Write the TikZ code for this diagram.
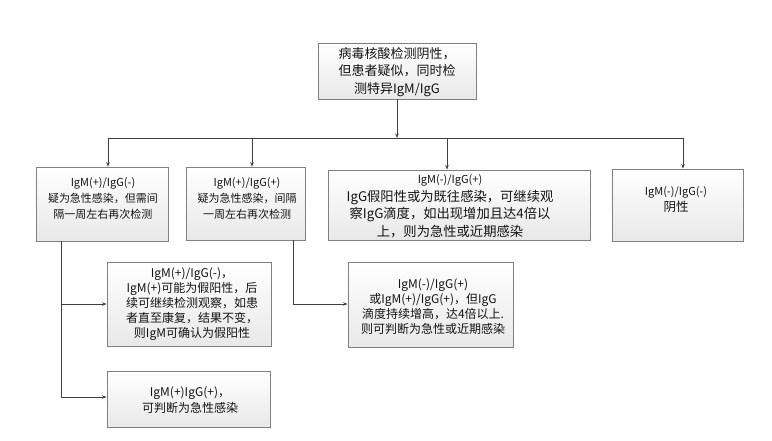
\documentclass[tikz,border=0pt]{standalone}
\usepackage{fontspec}
\setmainfont{Noto Sans CJK SC}
\usetikzlibrary{arrows.meta,calc}
\begin{document}
\begin{tikzpicture}[x=1pt,y=-1pt,
  box/.style={draw=black!50, line width=0.8pt, top color=white, bottom color=black!9, minimum width=#1, inner sep=0pt},
  txt/.style={align=center, text=black!92, inner sep=0pt},
  conn/.style={draw=black!75, line width=0.8pt},
  arr/.style={conn, -{Stealth[length=4.5pt,width=3.5pt]}}
]
\useasboundingbox (0,0) rectangle (772,441);
% boxes
\node[box=158, minimum height=56] (top) at (397,71) {};
\node[box=132, minimum height=74] (b1) at (102,204) {};
\node[box=119, minimum height=73] (b2) at (245.5,203.5) {};
\node[box=262, minimum height=70] (b3) at (459,205) {};
\node[box=131, minimum height=72] (b4) at (677.5,205) {};
\node[box=164, minimum height=84] (b5) at (189,304) {};
\node[box=165, minimum height=85] (b6) at (430.5,304.5) {};
\node[box=163, minimum height=56] (b7) at (188.5,399) {};
% texts
\node[txt, font=\fontsize{13}{17.5}\selectfont] (ttop) at (397,72) {病毒核酸检测阴性，\\但患者疑似，同时检\\测特异IgM/IgG};
\node[txt, font=\fontsize{11}{16}\selectfont] (t1) at (103,198) {IgM(+)/IgG(-)\\疑为急性感染，但需间\\隔一周左右再次检测};
\node[txt, font=\fontsize{11}{16}\selectfont] (t2) at (247,198) {IgM(+)/IgG(+)\\疑为急性感染，间隔\\一周左右再次检测};
\node[txt, font=\fontsize{13.3}{17.5}\selectfont] (t3) at (450,206) {{\fontsize{11}{16}\selectfont IgM(-)/IgG(+)}\\IgG假阳性或为既往感染，可继续观\\察IgG滴度，如出现增加且达4倍以\\上，则为急性或近期感染};
\node[txt, font=\fontsize{11}{16}\selectfont] (t4) at (676,200) {IgM(-)/IgG(-)\\{\fontsize{12.5}{16}\selectfont 阴性}};
\node[txt, font=\fontsize{12}{15}\selectfont] (t5) at (192,304) {IgM(+)/IgG(-)，\\IgM(+)可能为假阳性，后\\续可继续检测观察，如患\\者直至康复，结果不变，\\则IgM可确认为假阳性};
\node[txt, font=\fontsize{12}{15}\selectfont] (t6) at (433,307) {IgM(-)/IgG(+)\\或IgM(+)/IgG(+)，但IgG\\滴度持续增高，达4倍以上.\\则可判断为急性或近期感染};
\node[txt, font=\fontsize{12}{16}\selectfont] (t7) at (190,400) {IgM(+)IgG(+)，\\可判断为急性感染};
% connector coordinates
\coordinate (busL) at (108,138);
\coordinate (busR) at (683,138);
\coordinate (j2) at (252,138);
\coordinate (j3) at (447,138);
\coordinate (k1) at (61,304);
\coordinate (k2) at (61,397);
\coordinate (k3) at (293,304);
% connectors
\draw[arr] (top.south) -- (top.south |- busL);
\draw[conn] (busL) -- (busR);
\draw[arr] (busL) -- (busL |- b1.north);
\draw[arr] (j2) -- (j2 |- b2.north);
\draw[arr] (j3) -- (j3 |- b3.north);
\draw[arr] (busR) -- (busR |- b4.north);
\draw[conn] (k1 |- b1.south) -- (k2);
\draw[arr] (k1) -- (k1 -| b5.west);
\draw[arr] (k2) -- (k2 -| b7.west);
\draw[arr] (k3 |- b2.south) -- (k3) -- (k3 -| b6.west);
\end{tikzpicture}
\end{document}
